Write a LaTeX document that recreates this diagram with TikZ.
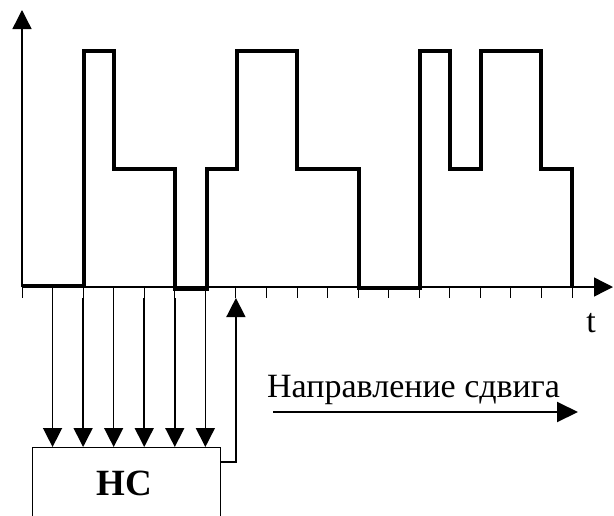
\documentclass[tikz,border=0pt]{standalone}
\usepackage{fontspec}
\setmainfont{Liberation Serif}
\usetikzlibrary{arrows.meta}
\begin{document}
\begin{tikzpicture}[x=1pt,y=-1pt,
  axis/.style={line width=1.4pt},
  sig/.style={line width=4pt, line join=miter},
  tickmark/.style={line width=1pt},
  conn/.style={line width=1.5pt},
  bighead/.style={-{Triangle[length=19pt,width=19pt]}},
  lbl/.style={inner sep=0pt, font=\fontsize{34}{40}\selectfont},
]
\useasboundingbox (0,0) rectangle (614,515);
\clip (0,0) rectangle (614,515);
% axes
\coordinate (o) at (22,287);
\coordinate (ytip) at (22,10);
\coordinate (xtip) at (613,287);
\draw[axis,bighead] (o) -- (ytip);
\draw[axis,bighead] (o) -- (xtip);
\foreach \k in {0,...,18} {
  \coordinate (t\k) at ({22+30.56*\k},287);
  \coordinate (b\k) at ({22+30.56*\k},298);
  \draw[tickmark] (t\k) -- (b\k);
}
% signal
\draw[sig] (22,285.5) -- (84,285.5) -- (84,51) -- (114,51) -- (114,169) -- (175,169)
  -- (175,289) -- (207,289) -- (207,169) -- (237,169) -- (237,51) -- (297,51)
  -- (297,169) -- (359,169) -- (359,288) -- (420,288) -- (420,51) -- (450,51)
  -- (450,169) -- (481,169) -- (481,51) -- (541,51) -- (541,169) -- (572,169) -- (572,287);
% box
\node[draw, line width=1.4pt, minimum width=188pt, minimum height=120pt, inner sep=0pt,
  anchor=north west] (nc) at (32,447) {};
\node[inner sep=0pt, font=\bfseries\fontsize{37}{40}\selectfont] (nclabel) at (124,483) {НС};
% inputs
\foreach \k in {1,...,6} {
  \draw[conn,bighead] (b\k) -- (b\k |- nc.north);
}
% feedback
\coordinate (fbstart) at (220,462);
\draw[conn,bighead] (fbstart) -| (b7);
% shift direction
\coordinate (sa) at (273,412);
\coordinate (sb) at (578,412);
\draw[line width=2pt, -{Triangle[length=21pt,width=20pt]}] (sa) -- (sb);
\node[lbl, anchor=base west] (shift) at (267,397) {Направление сдвига};
\node[lbl, anchor=base] (tl) at (591,332) {t};
\end{tikzpicture}
\end{document}
